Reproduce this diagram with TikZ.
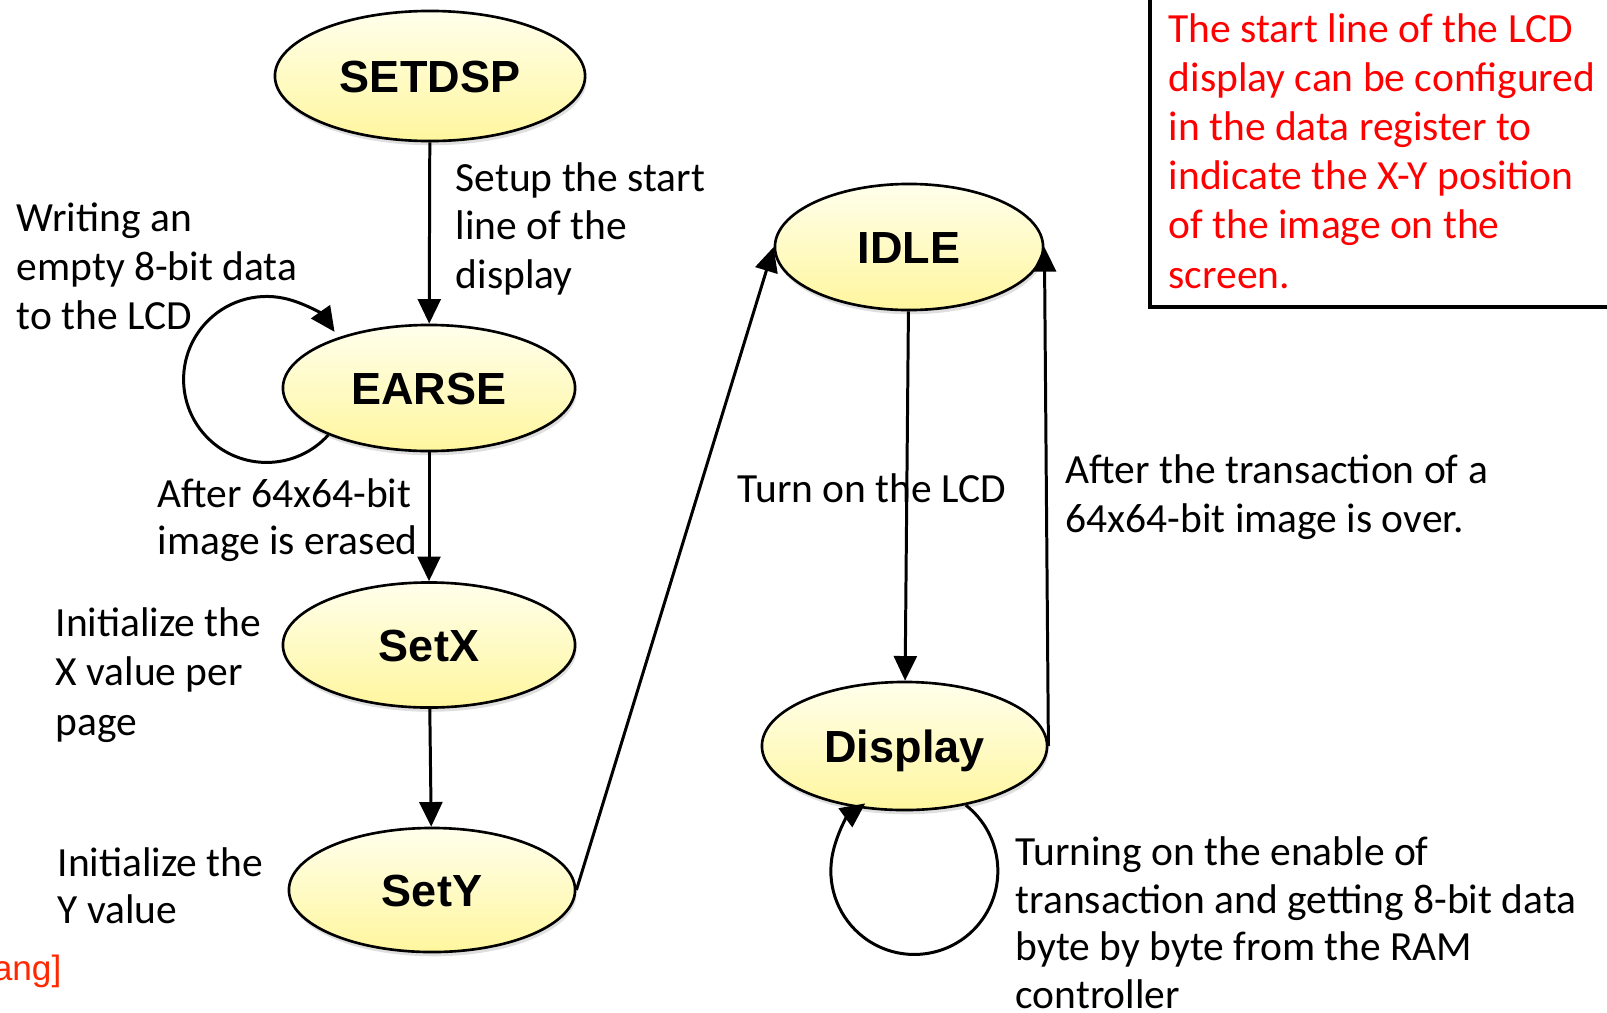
\documentclass[tikz,border=0pt]{standalone}
\usepackage{fontspec}
\setmainfont{Carlito}
\newfontfamily\statefont{Liberation Sans}
\usetikzlibrary{shapes.geometric,arrows.meta,shadows}

\definecolor{stateTop}{RGB}{255,255,236}
\definecolor{stateBot}{RGB}{255,246,158}
\definecolor{noteRed}{RGB}{255,0,0}
\definecolor{citeRed}{RGB}{255,40,0}

\begin{document}
\begin{tikzpicture}[x=0.01cm,y=-0.01cm,
  state/.style={ellipse, draw=black, line width=0.75pt,
    top color=stateTop, bottom color=stateBot, inner sep=0pt,
    font=\statefont\bfseries\fontsize{12.8}{15}\selectfont,
    text height=9.2pt, text depth=0pt,
    drop shadow={shadow xshift=0.4pt, shadow yshift=-1.2pt, opacity=0.25}},
  % multi-line labels are anchored at the baseline of their last line
  lbl/.style={anchor=base west, inner sep=0pt, align=left},
  skip/.style={font=\fontsize{11.8}{#1}\selectfont},
  trans/.style={-{Triangle[length=7pt,width=6.5pt]}, line width=0.85pt},
]
% canvas
\useasboundingbox (0,0) rectangle (1607,1012);
\clip (0,0) rectangle (1607,1012);
\fill[white] (0,0) rectangle (1607,1012);

% states
\node[state, minimum width=3.10cm, minimum height=1.30cm] (setdsp)  at (430,76)    {SETDSP};
\node[state, minimum width=2.92cm, minimum height=1.26cm] (earse)   at (429,388)   {EARSE};
\node[state, minimum width=2.92cm, minimum height=1.25cm] (setx)    at (429,645)   {SetX};
\node[state, minimum width=2.86cm, minimum height=1.24cm] (sety)    at (432,890)   {SetY};
\node[state, minimum width=2.68cm, minimum height=1.26cm] (idle)    at (909,247)   {IDLE};
\node[state, minimum width=2.85cm, minimum height=1.28cm] (display) at (904.5,746) {Display};

% transition labels
\node[lbl, skip=13.66] (setuplbl)  at (455,288)  {Setup the start\\line of the\\display};
\node[lbl, skip=13.8]  (writelbl)  at (16,329)   {Writing an\\empty 8-bit data\\to the LCD};
\node[lbl, skip=13.3]  (erasedlbl) at (157,554)  {After 64x64-bit\\image is erased};
\node[lbl, skip=14.0]  (initxlbl)  at (55,735)   {Initialize the\\X value per\\page};
\node[lbl, skip=13.1]  (initylbl)  at (57,923)   {Initialize the\\Y value};
\node[lbl, skip=13.5]  (turnlbl)   at (737,502)  {Turn on the LCD};
\node[lbl, skip=13.66] (overlbl)   at (1065,532) {After the transaction of a\\64x64-bit image is over.};
\node[lbl, skip=13.5]  (fetchlbl)  at (1015,1008) {Turning on the enable of\\transaction and getting 8-bit data\\byte by byte from the RAM\\controller};

% transitions
\draw[trans] (setdsp) -- (earse);
\draw[trans] (earse) -- (setx);
\draw[trans] (setx) -- (sety);
\draw[trans] (sety.east) -- (idle.west);
\draw[trans] (idle) -- (display);
\draw[trans] (display.east) -- (idle.east);
\draw[trans] (earse.205) arc[start angle=42, end angle=325, radius=83];
\draw[trans] (display.316) arc[start angle=308, end angle=594, radius=83.5];

% note box
\draw[line width=0.9pt] (1150,-20) rectangle (1660,307);
\node[lbl, text=noteRed, skip=13.95] (note) at (1168,288)
  {The start line of the LCD\\display can be configured\\in the data register to\\indicate the X-Y position\\of the image on the\\screen.};

% citation fragment
\node[anchor=base east, inner sep=0pt, text=citeRed,
  font=\statefont\fontsize{10}{12}\selectfont] (cite) at (62,980) {ang]};
\end{tikzpicture}
\end{document}
